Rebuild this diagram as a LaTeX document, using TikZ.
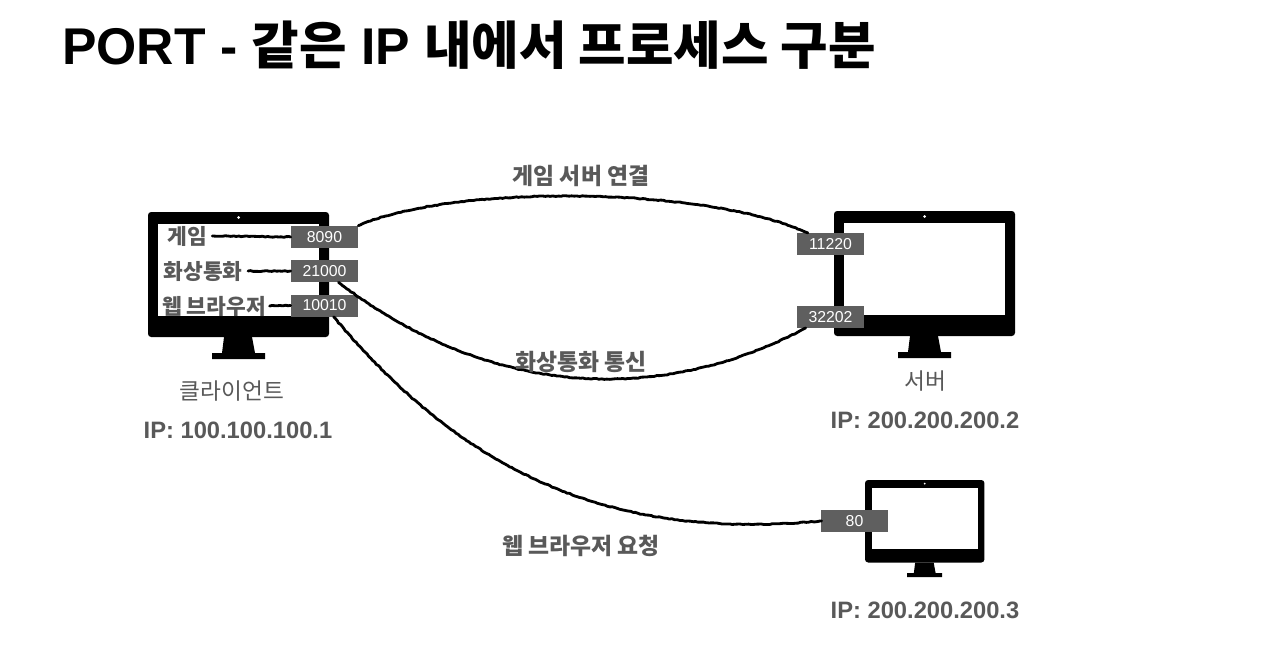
\documentclass[tikz,border=0pt]{standalone}
\usepackage{fontspec}
\setmainfont{Liberation Sans}
\newfontfamily\krfont{Noto Sans CJK KR}
\newcommand{\kr}[1]{{\krfont #1}}
\usepackage{xcolor}
\usetikzlibrary{decorations.pathmorphing}
\definecolor{labelgray}{HTML}{595959}
\definecolor{portgray}{HTML}{5F5F5F}

\tikzset{
  monitor/.pic={
    \fill[black, rounded corners=1.8pt] (0,0) rectangle (181,125);
    \fill[white] (10,12) rectangle (171,104);
    \fill[white] (90.5,5.5) circle (1.5);
    \fill[black] (76,125) -- (104,125) -- (107,141) -- (117,141) -- (117,147) -- (64,147) -- (64,141) -- (74,141) -- cycle;
  }
}

\begin{document}
\begin{tikzpicture}[
  x=0.02cm, y=-0.02cm,
  line cap=round,
  line join=round,
  portbox/.style={fill=portgray, text=white, minimum width=1.34cm, minimum height=0.44cm, inner sep=0pt, font=\fontsize{9}{10}\selectfont},
  tag/.style={text=labelgray, inner sep=0pt, font=\fontsize{12.2}{14}\selectfont\bfseries},
  linktag/.style={text=labelgray, inner sep=0pt, font=\fontsize{13}{15}\selectfont\bfseries},
  iptag/.style={text=labelgray, inner sep=0pt, font=\fontsize{13.5}{16}\selectfont\bfseries},
  namecap/.style={text=labelgray, inner sep=0pt, font=\fontsize{12.9}{15}\selectfont},
  rough/.style={black, line width=1.6pt, decorate, decoration={random steps, segment length=1.5pt, amplitude=0.25pt}}
]
  \useasboundingbox (0,0) rectangle (1265,649);

  % Title
  \node[anchor=west, inner sep=0pt, font=\fontsize{29.4}{32}\selectfont\bfseries] (title) at (62,45) {PORT - \kr{같은} IP \kr{내에서 프로세스 구분}};

  % Monitors
  \pic at (148,212) {monitor};
  \pic at (834,211) {monitor};
  \pic[scale=0.66] at (865,480) {monitor};

  % Port boxes
  \node[portbox] (p8090)  at (324.5,237)   {8090};
  \node[portbox] (p21000) at (324.5,271)   {21000};
  \node[portbox] (p10010) at (324.5,305.5) {10010};
  \node[portbox] (p11220) at (830.5,244)   {11220};
  \node[portbox] (p32202) at (830.5,317)   {32202};
  \node[portbox] (p80)    at (854.5,521)   {80};

  % Programs on the client
  \node[tag] (game)  at (187,236) {\kr{게임}};
  \node[tag] (video) at (203,271) {\kr{화상통화}};
  \node[tag] (web)   at (214,306) {\kr{웹 브라우저}};

  % Links inside the client
  \draw[rough] ([xshift=3pt]game.east) -- (p8090.west);
  \draw[rough] ([xshift=3pt]video.east) -- (p21000.west);
  \draw[rough] ([xshift=2pt]web.east) -- (p10010.west);

  % Links between the machines
  \draw[rough] (p8090.north east) .. controls (450,185) and (700,185) .. (p11220.154);
  \draw[rough] (p21000.-39) .. controls (500,405) and (670,400) .. (p32202.204);
  \draw[rough] (p10010.-51) .. controls (470,480) and (620,540) .. (p80.west);

  % Labels
  \node[linktag] (gamelink)  at (581,176) {\kr{게임 서버 연결}};
  \node[linktag] (videolink) at (581,362) {\kr{화상통화 통신}};
  \node[linktag] (weblink)   at (581,546) {\kr{웹 브라우저 요청}};

  \node[namecap] (client) at (232,391) {\kr{클라이언트}};
  \node[iptag]   (ipa)    at (238,430) {IP: 100.100.100.1};
  \node[namecap] (server) at (925,381) {\kr{서버}};
  \node[iptag]   (ipb)    at (925,420) {IP: 200.200.200.2};
  \node[iptag]   (ipc)    at (925,610) {IP: 200.200.200.3};
\end{tikzpicture}
\end{document}
